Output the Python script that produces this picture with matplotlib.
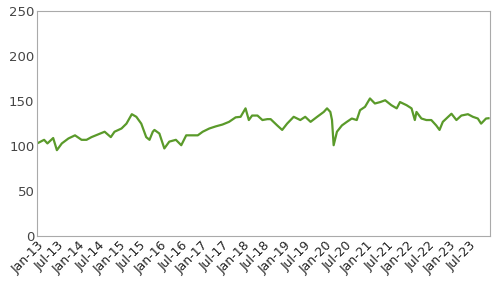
import numpy as np
import pandas as pd
import matplotlib
matplotlib.use("Agg")
import matplotlib.pyplot as plt
import matplotlib.dates as mdates

# decimal-year positions and index values
years = [2013.00, 2013.17, 2013.25, 2013.39, 2013.48, 2013.60, 2013.76, 2013.92,
         2014.08, 2014.20, 2014.32, 2014.48, 2014.64, 2014.79, 2014.88, 2015.05,
         2015.17, 2015.30, 2015.41, 2015.53, 2015.65, 2015.73, 2015.81, 2015.85,
         2015.97, 2016.09, 2016.21, 2016.37, 2016.50, 2016.62, 2016.78, 2016.90,
         2017.02, 2017.18, 2017.34, 2017.50, 2017.66, 2017.82, 2017.94, 2018.06,
         2018.14, 2018.22, 2018.35, 2018.47, 2018.59, 2018.67, 2018.83, 2018.95,
         2019.07, 2019.23, 2019.39, 2019.51, 2019.64, 2019.80, 2019.96, 2020.04,
         2020.12, 2020.16, 2020.20, 2020.28, 2020.40, 2020.52, 2020.64, 2020.76,
         2020.84, 2020.96, 2021.08, 2021.20, 2021.33, 2021.45, 2021.60, 2021.73,
         2021.81, 2021.97, 2022.09, 2022.17, 2022.21, 2022.33, 2022.45, 2022.57,
         2022.69, 2022.77, 2022.85, 2022.98, 2023.06, 2023.18, 2023.30, 2023.46,
         2023.58, 2023.70, 2023.78, 2023.90, 2023.96]
values = [103, 107, 103, 109, 95.5, 103, 108.5, 112,
          107, 107, 110, 113, 116, 110, 116, 119.6,
          125, 135.5, 132.6, 125, 110, 107, 116, 118,
          114, 97.4, 105, 107, 101, 112, 112, 112,
          116, 119.6, 122, 124, 127, 132, 132.6, 142,
          129, 134, 134, 129, 130, 130, 123, 118,
          125, 132.6, 129, 132.6, 127, 132.6, 138, 142,
          138, 129, 101, 116, 123, 127, 130.7, 129,
          140, 143.7, 153, 147.4, 149, 151, 145.5, 142,
          149, 145.5, 142, 129, 138, 130.7, 129, 129,
          123, 118, 127, 132.6, 136, 129, 134, 135.5,
          132.6, 130.7, 125, 130.7, 131]

yticks = [0, 50, 100, 150, 200, 250]


def to_date(y):
    yr = int(y)
    start = pd.Timestamp(year=yr, month=1, day=1)
    end = pd.Timestamp(year=yr + 1, month=1, day=1)
    return start + (end - start) * (y - yr)


dates = [to_date(y) for y in years]

fig = plt.figure(figsize=(4.95, 2.81), dpi=100)
ax = fig.add_axes([0.075, 0.16, 0.915, 0.80])

ax.plot(dates, values, color="#5a9a2a", lw=1.6)

ax.set_ylim(0, 250)
ax.set_yticks(yticks)
ax.set_xlim(pd.Timestamp("2013-01-01"), pd.Timestamp("2023-12-31"))
ax.xaxis.set_major_locator(mdates.MonthLocator(bymonth=[1, 7]))
ax.xaxis.set_major_formatter(mdates.DateFormatter("%b-%y"))

for s in ax.spines.values():
    s.set_color("#aaaaaa")
ax.tick_params(length=0, labelsize=9.5, colors="#444444", pad=2)
ax.tick_params(axis="x", labelsize=9, colors="#222222")
plt.setp(ax.get_xticklabels(), rotation=45, ha="right", rotation_mode="anchor")

fig.savefig("out.png", dpi=100)
